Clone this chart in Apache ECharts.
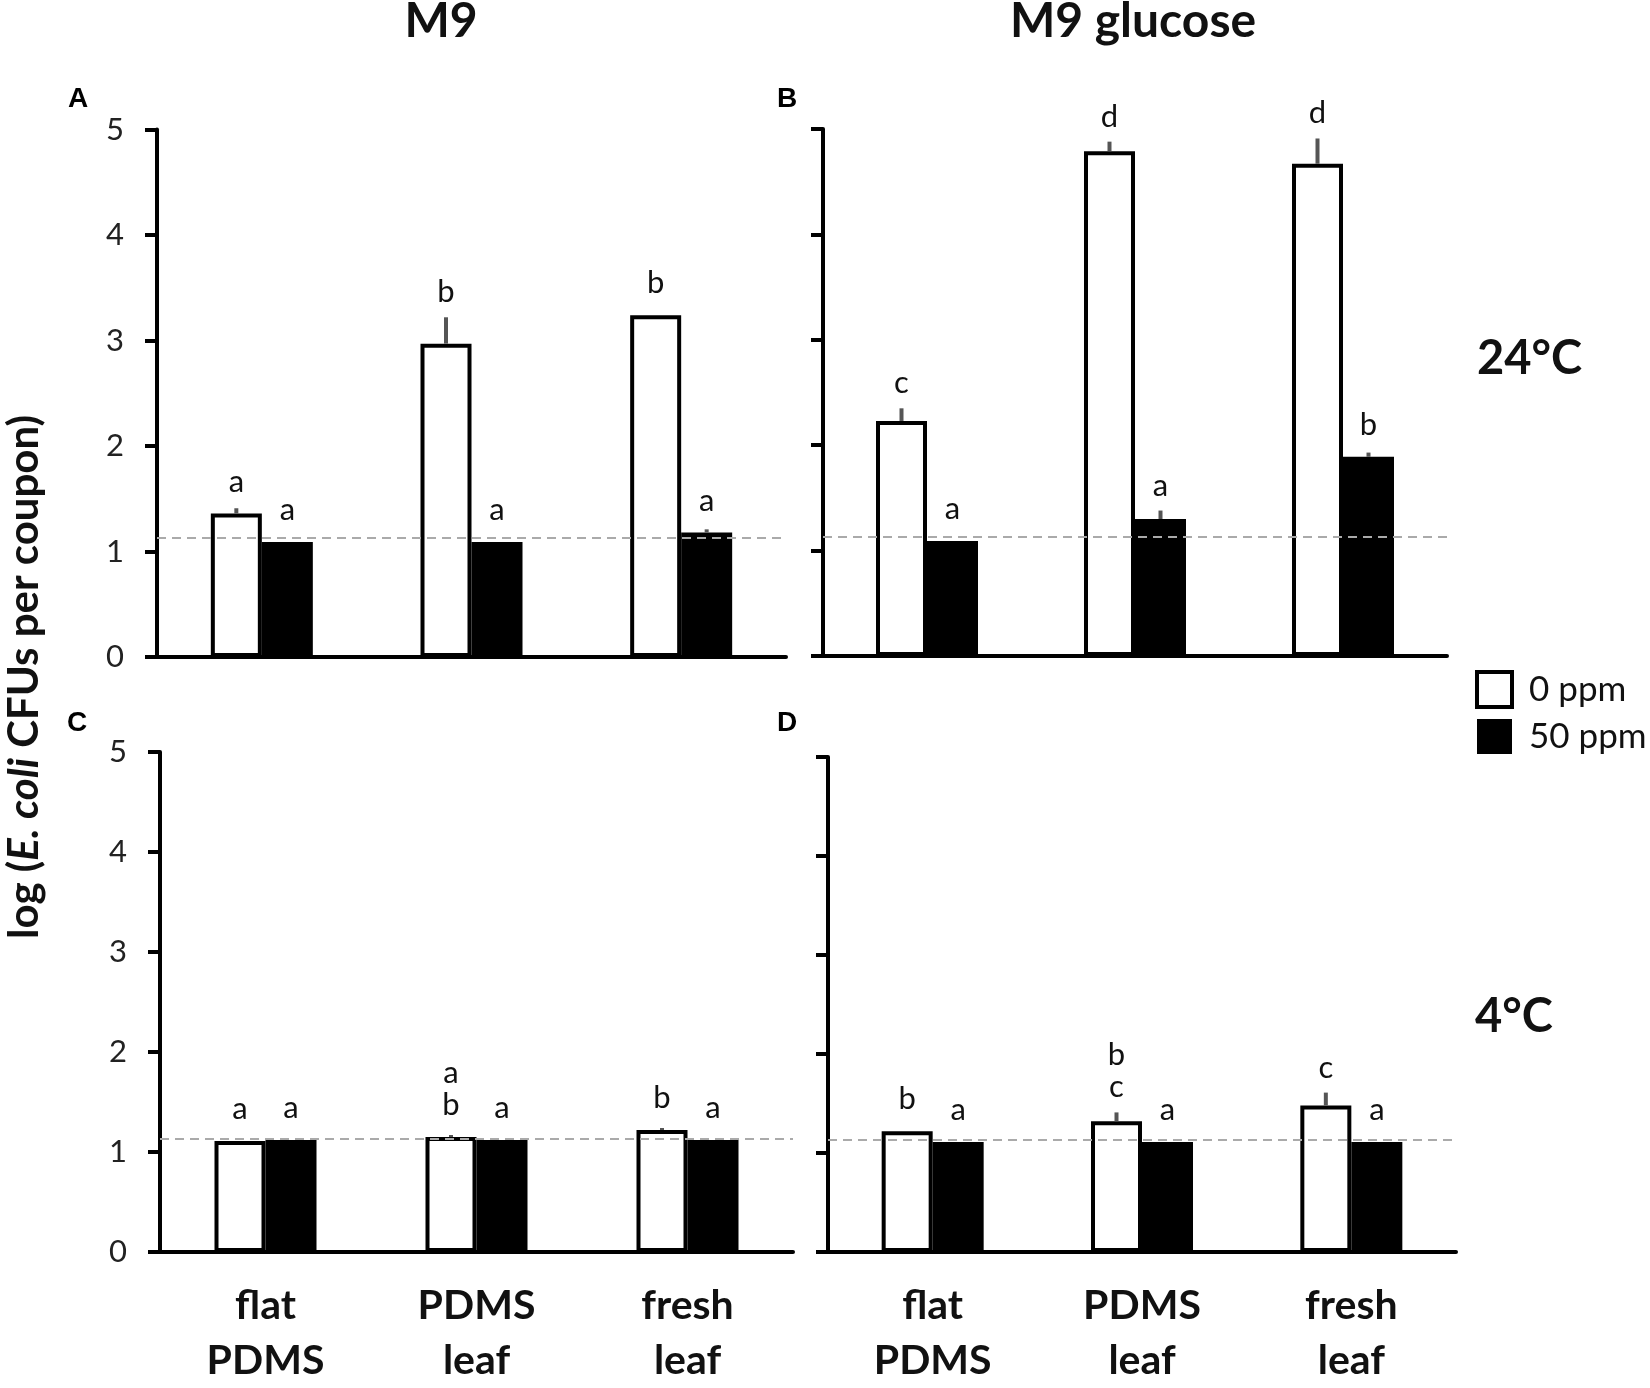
<!DOCTYPE html>
<html>
<head>
<meta charset="utf-8">
<script src="https://cdn.jsdelivr.net/npm/echarts@6/dist/echarts.min.js"></script>
<style>
html,body{margin:0;padding:0;background:#fff;}
#chart{width:1650px;height:1388px;}
</style>
</head>
<body>
<div id="chart"></div>
<script>
// ---- data ----
const categories = ['flat\nPDMS', 'PDMS\nleaf', 'fresh\nleaf'];
const seriesNames = ['0 ppm', '50 ppm'];
const yTicks = [0, 1, 2, 3, 4, 5];
const detectionLimit = 1.13;

// Panel A: M9, 24°C
const A_0ppm = [1.36, 2.97, 3.24];
const A_0ppm_err = [0.05, 0.25, 0.0];
const A_50ppm = [1.09, 1.09, 1.18];
const A_50ppm_err = [0.0, 0.0, 0.03];
const A_letters0 = ['a', 'b', 'b'];
const A_letters50 = ['a', 'a', 'a'];

// Panel B: M9 glucose, 24°C
const B_0ppm = [2.23, 4.79, 4.67];
const B_0ppm_err = [0.12, 0.09, 0.24];
const B_50ppm = [1.09, 1.30, 1.89];
const B_50ppm_err = [0.0, 0.08, 0.04];
const B_letters0 = ['c', 'd', 'd'];
const B_letters50 = ['a', 'a', 'b'];

// Panel C: M9, 4°C
const C_0ppm = [1.11, 1.15, 1.22];
const C_0ppm_err = [0.0, 0.02, 0.02];
const C_50ppm = [1.12, 1.12, 1.12];
const C_50ppm_err = [0.0, 0.0, 0.0];
const C_letters0 = ['a', 'a\nb', 'b'];
const C_letters50 = ['a', 'a', 'a'];

// Panel D: M9 glucose, 4°C
const D_0ppm = [1.22, 1.32, 1.48];
const D_0ppm_err = [0.0, 0.09, 0.13];
const D_50ppm = [1.11, 1.11, 1.11];
const D_50ppm_err = [0.0, 0.0, 0.0];
const D_letters0 = ['b', 'b\nc', 'c'];
const D_letters50 = ['a', 'a', 'a'];

const panels = [
  {v0: A_0ppm, e0: A_0ppm_err, v1: A_50ppm, e1: A_50ppm_err, l0: A_letters0, l1: A_letters50, ylab: true, xlab: false},
  {v0: B_0ppm, e0: B_0ppm_err, v1: B_50ppm, e1: B_50ppm_err, l0: B_letters0, l1: B_letters50, ylab: false, xlab: false},
  {v0: C_0ppm, e0: C_0ppm_err, v1: C_50ppm, e1: C_50ppm_err, l0: C_letters0, l1: C_letters50, ylab: true, xlab: true},
  {v0: D_0ppm, e0: D_0ppm_err, v1: D_50ppm, e1: D_50ppm_err, l0: D_letters0, l1: D_letters50, ylab: false, xlab: true}
];

// ---- layout / style ----
const FONT = 'Lato, "Open Sans", sans-serif';
const grids = [
  {left: 157, top: 129.5, width: 629, height: 527.5},
  {left: 823, top: 129, width: 624, height: 527},
  {left: 160, top: 752, width: 633, height: 513},
  {left: 828, top: 757, width: 628, height: 505}
];
const BAR_W = 51;

function errLetterSeries(gi, vals, errs, letters, offset) {
  return {
    type: 'custom',
    xAxisIndex: gi, yAxisIndex: gi,
    z: 5,
    silent: true,
    data: vals.map((v, i) => [i, v, errs[i]]),
    renderItem: function (params, api) {
      const idx = api.value(0), v = api.value(1), e = api.value(2);
      const base = api.coord([idx, v]);
      const top = api.coord([idx, v + e]);
      const x = base[0] + offset;
      const children = [];
      if (e > 0) {
        children.push({
          type: 'line',
          shape: {x1: x, y1: base[1], x2: x, y2: top[1]},
          style: {stroke: '#555', lineWidth: 4}
        });
      }
      const yText = Math.min(top[1] - 9, base[1] - 16);
      children.push({
        type: 'text',
        x: x, y: yText,
        style: {
          text: letters[params.dataIndex],
          fontSize: 31, fontFamily: FONT, fill: '#111',
          align: 'center', verticalAlign: 'bottom', lineHeight: 32
        }
      });
      return {type: 'group', children: children};
    }
  };
}

const xAxes = [], yAxes = [], series = [];
panels.forEach((p, gi) => {
  xAxes.push({
    type: 'category', gridIndex: gi, data: categories,
    axisLine: {show: true, lineStyle: {color: '#000', width: 4}},
    axisTick: {show: false},
    axisLabel: {
      show: p.xlab, interval: 0, margin: 26,
      fontSize: 41, fontWeight: 'bold', fontFamily: FONT, color: '#111', lineHeight: 55
    }
  });
  yAxes.push({
    type: 'value', gridIndex: gi, min: 0, max: 5, interval: 1,
    axisLine: {show: true, lineStyle: {color: '#000', width: 4}},
    axisTick: {show: true, inside: false, length: 12, lineStyle: {color: '#000', width: 4}},
    axisLabel: {
      show: p.ylab, margin: 33, fontSize: 31, fontFamily: FONT, color: '#222',
      formatter: v => (yTicks.indexOf(v) >= 0 ? String(v) : '')
    },
    splitLine: {show: false}
  });
  series.push({
    name: seriesNames[0], type: 'bar', xAxisIndex: gi, yAxisIndex: gi,
    data: p.v0, barWidth: BAR_W, barGap: '0%',
    itemStyle: {color: '#fff', borderColor: '#000', borderWidth: 4},
    silent: true,
    markLine: {
      silent: true, symbol: 'none', label: {show: false},
      lineStyle: {color: '#aaa', type: [9, 6], width: 2},
      data: [{yAxis: detectionLimit}],
      z: 4
    }
  });
  series.push({
    name: seriesNames[1], type: 'bar', xAxisIndex: gi, yAxisIndex: gi,
    data: p.v1, barWidth: BAR_W, barGap: '0%',
    itemStyle: {color: '#000', borderColor: '#000', borderWidth: 0},
    silent: true
  });
  series.push(errLetterSeries(gi, p.v0, p.e0, p.l0, -BAR_W / 2));
  series.push(errLetterSeries(gi, p.v1, p.e1, p.l1, BAR_W / 2));
});

const option = {
  animation: false,
  backgroundColor: '#fff',
  grid: grids.map(g => Object.assign({containLabel: false}, g)),
  xAxis: xAxes,
  yAxis: yAxes,
  legend: {
    data: [
      {name: seriesNames[0], itemStyle: {color: '#fff', borderColor: '#000', borderWidth: 4}},
      {name: seriesNames[1], itemStyle: {color: '#000', borderColor: '#000', borderWidth: 0}}
    ],
    orient: 'vertical', left: 1470, top: 665,
    itemWidth: 35, itemHeight: 35, itemGap: 10, icon: 'rect',
    selectedMode: false,
    textStyle: {fontSize: 35, fontFamily: FONT, color: '#111', padding: [0, 0, 0, 12]}
  },
  graphic: [
    {type: 'text', x: 441, y: 22, style: {text: 'M9', fontSize: 48, fontWeight: 'bold', fontFamily: FONT, fill: '#111', align: 'center', verticalAlign: 'middle'}},
    {type: 'text', x: 1133, y: 22, style: {text: 'M9 glucose', fontSize: 48, fontWeight: 'bold', fontFamily: FONT, fill: '#111', align: 'center', verticalAlign: 'middle'}},
    {type: 'text', x: 1477, y: 359, style: {text: '24°C', fontSize: 47, fontWeight: 'bold', fontFamily: FONT, fill: '#111', align: 'left', verticalAlign: 'middle'}},
    {type: 'text', x: 1475, y: 1017, style: {text: '4°C', fontSize: 47, fontWeight: 'bold', fontFamily: FONT, fill: '#111', align: 'left', verticalAlign: 'middle'}},
    {type: 'text', x: 78, y: 99, style: {text: 'A', fontSize: 28, fontWeight: 'bold', fontFamily: '"Liberation Sans", Arial, sans-serif', fill: '#000', align: 'center', verticalAlign: 'middle'}},
    {type: 'text', x: 787, y: 99, style: {text: 'B', fontSize: 28, fontWeight: 'bold', fontFamily: '"Liberation Sans", Arial, sans-serif', fill: '#000', align: 'center', verticalAlign: 'middle'}},
    {type: 'text', x: 77, y: 723, style: {text: 'C', fontSize: 28, fontWeight: 'bold', fontFamily: '"Liberation Sans", Arial, sans-serif', fill: '#000', align: 'center', verticalAlign: 'middle'}},
    {type: 'text', x: 787, y: 723, style: {text: 'D', fontSize: 28, fontWeight: 'bold', fontFamily: '"Liberation Sans", Arial, sans-serif', fill: '#000', align: 'center', verticalAlign: 'middle'}},
    {type: 'text', x: 24, y: 677, rotation: Math.PI / 2,
      style: {
        text: '{b|log (}{i|E. coli}{b| CFUs per coupon)}',
        align: 'center', verticalAlign: 'middle',
        rich: {
          b: {fontSize: 42, fontWeight: 'bold', fontFamily: FONT, fill: '#111', color: '#111'},
          i: {fontSize: 42, fontWeight: 'bold', fontStyle: 'italic', fontFamily: FONT, fill: '#111', color: '#111'}
        }
      }
    }
  ],
  series: series
};

const chart = echarts.init(document.getElementById('chart'), null, {renderer: 'canvas'});
chart.setOption(option);
</script>
</body>
</html>
